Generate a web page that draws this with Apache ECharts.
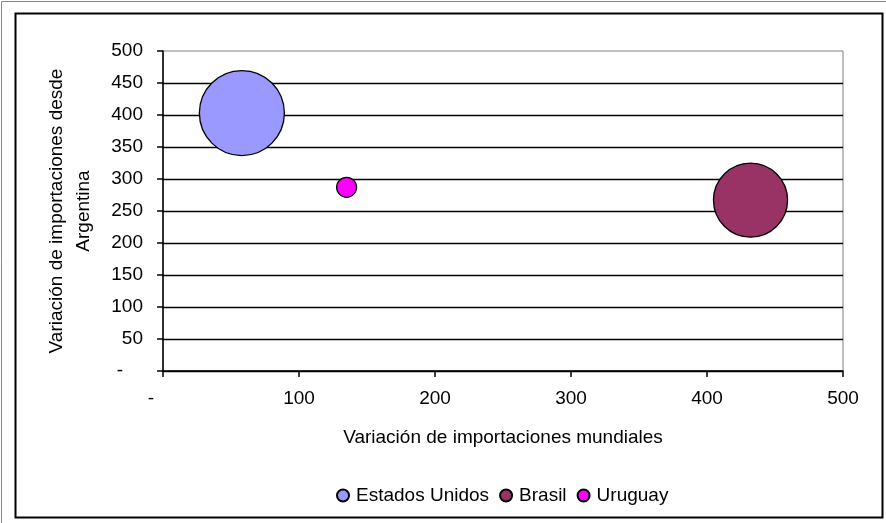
<!DOCTYPE html>
<html>
<head>
<meta charset="utf-8">
<script src="https://cdn.jsdelivr.net/npm/echarts@6/dist/echarts.min.js"></script>
<style>
html,body{margin:0;padding:0;background:#fff;}
#c{width:886px;height:523px;}
</style>
</head>
<body>
<div id="c"></div>
<script>
const countries = ['Estados Unidos', 'Brasil', 'Uruguay'];
const xValues = [58, 432, 135];      // Variación de importaciones mundiales
const yValues = [403, 267, 287];     // Variación de importaciones desde Argentina
const bubbleSizes = [100, 76, 5.5];  // relative bubble size (area)
const colors = ['#9999FF', '#993366', '#FF00FF'];
const xTicks = [0, 100, 200, 300, 400, 500];
const yTicks = [0, 50, 100, 150, 200, 250, 300, 350, 400, 450, 500];

const FONT = 'Liberation Sans, Arial, sans-serif';
const FS = 19;
const maxSize = Math.max.apply(null, bubbleSizes);
const MAX_DIAM = 85;

const chart = echarts.init(document.getElementById('c'), null, {renderer: 'canvas'});

const series = countries.map((name, i) => ({
  name: name,
  type: 'scatter',
  data: [[xValues[i], yValues[i], bubbleSizes[i]]],
  symbolSize: v => MAX_DIAM * Math.sqrt(v[2] / maxSize),
  itemStyle: {color: colors[i], borderColor: '#000', borderWidth: 1.3, opacity: 1},
  emphasis: {disabled: true}
}));

chart.setOption({
  animation: false,
  backgroundColor: '#fff',
  textStyle: {fontFamily: FONT},
  grid: {left: 163, top: 51, width: 680, height: 320, show: true, borderColor: '#808080', borderWidth: 1, backgroundColor: 'transparent'},
  graphic: [
    {type: 'rect', shape: {x: 15.5, y: 13.5, width: 867, height: 504}, style: {fill: 'none', stroke: '#000', lineWidth: 2}, silent: true},
    {type: 'line', shape: {x1: 1.5, y1: 1.5, x2: 886, y2: 1.5}, style: {stroke: '#888', lineWidth: 1}, silent: true},
    {type: 'line', shape: {x1: 1.5, y1: 1.5, x2: 1.5, y2: 523}, style: {stroke: '#888', lineWidth: 1}, silent: true}
  ],
  legend: {
    bottom: 13,
    left: 331,
    itemWidth: 12,
    itemHeight: 12,
    itemGap: 10,
    icon: 'circle',
    textStyle: {fontFamily: FONT, fontSize: FS, color: '#000', padding: [0, 0, 0, 2]},
    data: countries
  },
  xAxis: {
    type: 'value',
    min: 0, max: 500, interval: 100,
    name: 'Variación de importaciones mundiales',
    nameLocation: 'middle',
    nameGap: 57,
    nameTextStyle: {fontFamily: FONT, fontSize: FS, color: '#000'},
    axisLine: {show: true, onZero: false, lineStyle: {color: '#000', width: 1.5}},
    axisTick: {show: true, length: 6, lineStyle: {color: '#000', width: 1.5}},
    axisLabel: {
      margin: 18, fontFamily: FONT, fontSize: FS, color: '#000',
      formatter: v => v === 0 ? '{d|-}' : String(v),
      rich: {d: {fontFamily: FONT, fontSize: FS, color: '#000', padding: [0, 24, 0, 0]}}
    },
    splitLine: {show: false}
  },
  yAxis: {
    type: 'value',
    min: 0, max: 500, interval: 50,
    name: 'Variación de importaciones desde\nArgentina',
    nameLocation: 'middle',
    nameRotate: 90,
    nameGap: 66,
    nameTextStyle: {fontFamily: FONT, fontSize: FS, color: '#000', lineHeight: 27},
    axisLine: {show: true, onZero: false, lineStyle: {color: '#000', width: 1.5}},
    axisTick: {show: true, length: 6, lineStyle: {color: '#000', width: 1.5}},
    axisLabel: {
      margin: 20, fontFamily: FONT, fontSize: FS, color: '#000',
      formatter: v => v === 0 ? '{d|-}' : String(v),
      rich: {d: {fontFamily: FONT, fontSize: FS, color: '#000', padding: [0, 20, 0, 0]}}
    },
    splitLine: {show: true, showMaxLine: false, lineStyle: {color: '#000', width: 1.3}}
  },
  series: series
});
</script>
</body>
</html>
